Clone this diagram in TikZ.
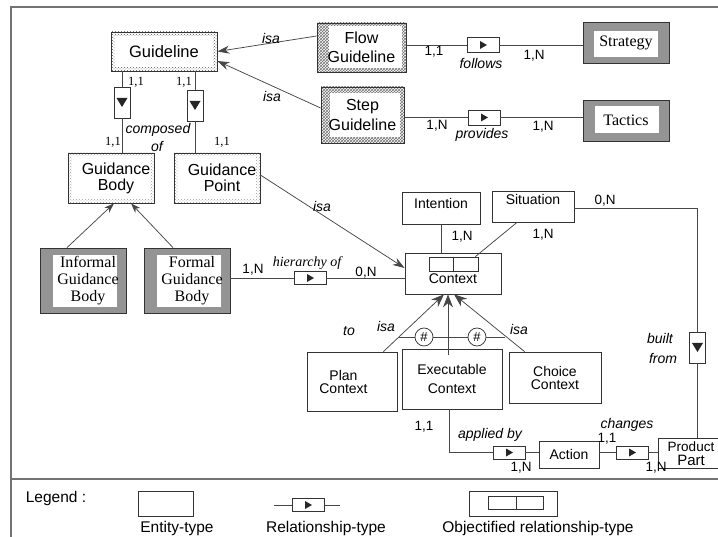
\documentclass[tikz,border=0pt]{standalone}
\usepackage{fontspec}
\setmainfont{Liberation Sans}
\newfontfamily\serifx{Liberation Serif}
\usetikzlibrary{patterns,arrows.meta,calc}
\newcommand\fxsize[2]{\fontsize{#1}{#2}\selectfont}
\tikzset{
 ln/.style={draw=black!72, line width=0.75pt},
 frameline/.style={draw=black!55, line width=1.1pt},
 bx/.style={draw=black!80, line width=0.75pt, inner sep=0pt, align=center, fill=white, text=black},
 hatchbox/.style n args={5}{bx, path picture={
   \fill[#5] (path picture bounding box.south west) rectangle (path picture bounding box.north east);
   \fill[white] ($(path picture bounding box.south west)+(#1pt,#4pt)$) rectangle ($(path picture bounding box.north east)+(-#2pt,-#3pt)$);}},
 graybox/.style n args={4}{bx, fill=black!42, path picture={
   \fill[white] ($(path picture bounding box.south west)+(#1pt,#4pt)$) rectangle ($(path picture bounding box.north east)+(-#2pt,-#3pt)$);}},
 relR/.style={bx, minimum width=32pt, minimum height=14pt, path picture={\fill[black!85] ([xshift=-3pt,yshift=4pt]path picture bounding box.center) -- ++(7pt,-4pt) -- ++(-7pt,-4pt) -- cycle;}},
 relD/.style={bx, minimum width=16pt, minimum height=31pt, path picture={\fill[black!85] ([xshift=-5.5pt,yshift=4.5pt]path picture bounding box.center) -- ++(11pt,0pt) -- ++(-5.5pt,-9pt) -- cycle;}},
 isaarrow/.style={ln, -{Stealth[length=12pt,width=8pt]}},
 smallarrow/.style={ln, -{Stealth[length=10pt,width=7pt]}},
 bigarrow/.style={ln, -{Stealth[length=13pt,width=10pt]}},
 itl/.style={font=\fxsize{14}{14}\itshape, inner sep=0pt, text=black},
 card/.style={font=\fxsize{13.5}{14}, inner sep=0pt, text=black},
 scard/.style={font=\serifx\fxsize{12.5}{13}, inner sep=0pt, text=black},
 legtxt/.style={font=\fxsize{15.5}{16}, inner sep=0pt, text=black},
 hdots/.style={pattern=crosshatch dots, pattern color=black!65},
 ldots/.style={pattern=crosshatch dots, pattern color=black!38},
 hcross/.style={pattern=crosshatch, pattern color=black!55},
}
\begin{document}
\begin{tikzpicture}[x=1pt,y=-1pt]
\path[use as bounding box] (0,0) rectangle (718,537);
\clip (0,0) rectangle (718,537);
\fill[white] (0,0) rectangle (718,537);

% frame
\draw[frameline] (11,560) -- (11,7) -- (740,7);
\draw[frameline] (11,479) -- (740,479);

% entities
\node[hatchbox={4}{4}{4}{4}{hdots}, minimum width=106pt, minimum height=39pt, font=\fxsize{16.5}{19}] (guideline) at (164,51.5) {Guideline};
\node[hatchbox={12}{4}{3}{4}{hcross}, minimum width=89pt, minimum height=49pt, font=\fxsize{16}{19}] (flowg) at (361.5,47.5) {Flow\\Guideline};
\node[hatchbox={9}{4}{6}{6}{hcross}, minimum width=83pt, minimum height=56pt, font=\fxsize{16}{20}] (stepg) at (362.5,115) {Step\\Guideline};
\node[graybox={11}{11}{9}{6}, minimum width=86pt, minimum height=41pt, font=\serifx\fxsize{16}{17}] (strategy) at (626,42.5) {Strategy};
\node[graybox={12}{10}{6}{8}, minimum width=86pt, minimum height=41pt, font=\serifx\fxsize{16}{17}] (tactics) at (626,120.5) {Tactics};

\node[hatchbox={4}{4}{3}{4}{ldots}, minimum width=86pt, minimum height=50pt,
  label={[name=gbodytxt, font=\fxsize{16}{16}, align=center, xshift=5pt]center:{Guidance\\Body}}] (gbody) at (111,178) {};
\node[hatchbox={4}{4}{3}{4}{ldots}, minimum width=86pt, minimum height=50pt,
  label={[name=gpointtxt, font=\fxsize{16}{16}, align=center, xshift=5pt]center:{Guidance\\Point}}] (gpoint) at (217,178) {};

\node[graybox={13}{9}{7}{6}, minimum width=86pt, minimum height=65pt,
  label={[name=informaltxt, font=\serifx\fxsize{16}{17}, align=center, xshift=5pt]center:{Informal\\Guidance\\Body}}] (informal) at (83,280.5) {};
\node[graybox={13}{9}{7}{6}, minimum width=86pt, minimum height=65pt,
  label={[name=formaltxt, font=\serifx\fxsize{16}{17}, align=center, xshift=5pt]center:{Formal\\Guidance\\Body}}] (formal) at (187,280.5) {};

\node[bx, minimum width=96pt, minimum height=41pt, font=\fxsize{14}{14}, text height=21pt, text depth=0pt] (context) at (453,273.5) {Context};
\node[bx, minimum width=49pt, minimum height=14pt] (ctxrel) at (453.5,264) {};
\draw[draw=black!80, line width=0.75pt] (ctxrel.north) -- (ctxrel.south);

\node[bx, minimum width=78pt, minimum height=32pt, font=\fxsize{14}{14}, text height=10pt, text depth=8pt] (intention) at (441,208) {Intention};
\node[bx, minimum width=82pt, minimum height=31pt, font=\fxsize{14}{14}, text height=10pt, text depth=13pt] (situation) at (533,206.5) {Situation};

\node[bx, minimum width=90pt, minimum height=59pt,
  label={[name=plantxt, font=\fxsize{14}{13}, align=center, xshift=-8.5pt]center:{Plan\\Context}}] (plan) at (352,381.5) {};
\node[bx, minimum width=100pt, minimum height=60pt, font=\fxsize{14}{19}] (exec) at (452,379) {Executable\\Context};
\node[bx, minimum width=92pt, minimum height=51pt, font=\fxsize{14}{13}] (choice) at (555,377.5) {Choice\\Context};

\node[bx, minimum width=60pt, minimum height=27pt, font=\fxsize{14}{14}] (action) at (569,454.5) {Action};
\node[bx, minimum width=66pt, minimum height=30pt, font=\fxsize{13.5}{14}] (product) at (691,453.5) {Product\\{\fxsize{15}{14}Part}};

% relationships
\node[relR, minimum height=15pt] (follows) at (483,45) {};
\node[relR, minimum height=15pt] (provides) at (484,117.5) {};
\node[relD] (comp1) at (122,102.5) {};
\node[relD] (comp2) at (195,105.5) {};
\node[relR, minimum height=13pt] (hier) at (310,278) {};
\node[relD] (built) at (697.5,347.5) {};
\node[relR, minimum height=13pt] (applied) at (509,452.5) {};
\node[relR, minimum height=13pt] (changes) at (632,452.5) {};

% connectors
\draw[isaarrow] ([yshift=11.5pt]flowg.west) -- (guideline.east);
\draw[isaarrow] ([yshift=7pt]stepg.west) -- ([yshift=-9.5pt]guideline.east);
\draw[ln] (flowg.east |- follows.west) -- (follows.west) (follows.east) -- (follows.east -| strategy.west);
\draw[ln] (stepg.east |- provides.west) -- (provides.west) (provides.east) -- (provides.east -| tactics.west);
\draw[ln] (comp1.north |- guideline.south) -- (comp1.north) (comp1.south) -- (comp1.south |- gbody.north);
\draw[ln] (comp2.north |- guideline.south) -- (comp2.north) (comp2.south) -- (comp2.south |- gpoint.north);
\draw[isaarrow] ([yshift=3pt]gpoint.east) -- ([yshift=5.5pt]context.west);
\draw[smallarrow] ([xshift=-16pt]informal.north) -- ([xshift=3pt]gbody.south);
\draw[smallarrow] ([xshift=-14pt]formal.north) -- ([xshift=20pt]gbody.south);
\draw[ln] (formal.east |- hier.west) -- (hier.west) (hier.east) -- (hier.east -| context.west);
\draw[ln] (intention.south) -- (intention.south |- context.north);
\draw[ln] ([xshift=-16pt]situation.south) -- ([xshift=-3pt]ctxrel.north east);
\draw[ln] ([yshift=-1.5pt]situation.east) -| (built.north) (built.south) -- (built.south |- product.north);
\draw[bigarrow] ([xshift=-14pt]plan.north east) -- ([xshift=-9pt]context.south);
\draw[bigarrow] ([xshift=-4pt,yshift=-6pt]exec.north) -- ([xshift=-5pt]context.south);
\draw[bigarrow] ([xshift=16pt]choice.north west) -- ([xshift=1pt]context.south);
\coordinate (pl) at (399,337);
\coordinate (pr) at (505,337);
\draw[ln] (pl) -- (pr);
\node[circle, draw=black!80, line width=0.75pt, fill=white, inner sep=0pt, minimum size=18pt, font=\fxsize{13}{13}] (ex1) at (424,337) {\#};
\node[circle, draw=black!80, line width=0.75pt, fill=white, inner sep=0pt, minimum size=18pt, font=\fxsize{13}{13}] (ex2) at (477,337) {\#};
\draw[ln] ([xshift=-3pt]exec.south) |- (applied.west) (applied.east) -- (applied.east -| action.west)
  (action.east |- changes.west) -- (changes.west) (changes.east) -- (changes.east -| product.west);

% labels
\node[itl] (l1) at (271,38) {isa};
\node[itl] (l2) at (272,96) {isa};
\node[scard] (l3) at (136,82) {1,1};
\node[scard] (l4) at (184,82) {1,1};
\node[scard] (l5) at (113,142) {1,1};
\node[scard] (l6) at (222,142) {1,1};
\node[itl] (l7) at (158,130) {composed};
\node[itl] (l8) at (157,146) {of};
\node[card] (l9) at (434,52) {1,1};
\node[itl] (l10) at (481,63) {follows};
\node[card] (l11) at (534,56) {1,N};
\node[card] (l12) at (437,126) {1,N};
\node[itl] (l13) at (482,135) {provides};
\node[card] (l14) at (543,127) {1,N};
\node[itl] (l15) at (322,206) {isa};
\node[card] (l16) at (253,270) {1,N};
\node[font=\serifx\fxsize{14}{14}\itshape, inner sep=0pt] (l17) at (307,263) {hierarchy of};
\node[card] (l18) at (366,273) {0,N};
\node[card] (l19) at (462,237) {1,N};
\node[card] (l20) at (543,235) {1,N};
\node[card] (l21) at (605,201) {0,N};
\node[itl] (l22) at (660,338) {built};
\node[itl] (l23) at (663,358) {from};
\node[itl] (l24) at (349,331) {to};
\node[itl] (l25) at (386,326) {isa};
\node[itl] (l26) at (519,329) {isa};
\node[card] (l27) at (424,427) {1,1};
\node[itl] (l28) at (490,435) {applied by};
\node[card] (l29) at (521,468) {1,N};
\node[itl] (l30) at (627,425) {changes};
\node[card] (l31) at (607,439) {1,1};
\node[card] (l32) at (656,468) {1,N};

% legend
\node[legtxt, anchor=base] (legend) at (56,502) {Legend :};
\node[bx, minimum width=55pt, minimum height=25pt] (lent) at (165.5,503.5) {};
\coordinate (lrl) at (274,505);
\coordinate (lrr) at (340,505);
\draw[ln] (lrl) -- (lrr);
\node[relR, minimum height=13pt] (lrel) at (308,505) {};
\node[bx, minimum width=88pt, minimum height=25pt] (lobj) at (513,503.5) {};
\node[bx, minimum width=55pt, minimum height=13pt] (lobjin) at (516,503) {};
\draw[draw=black!80, line width=0.75pt] (lobjin.north) -- (lobjin.south);
\node[legtxt, anchor=base] (lentt) at (177,532) {Entity-type};
\node[legtxt, anchor=base] (lrelt) at (326,532) {Relationship-type};
\node[legtxt, anchor=base] (lobjt) at (538,532) {Objectified relationship-type};
\end{tikzpicture}
\end{document}
